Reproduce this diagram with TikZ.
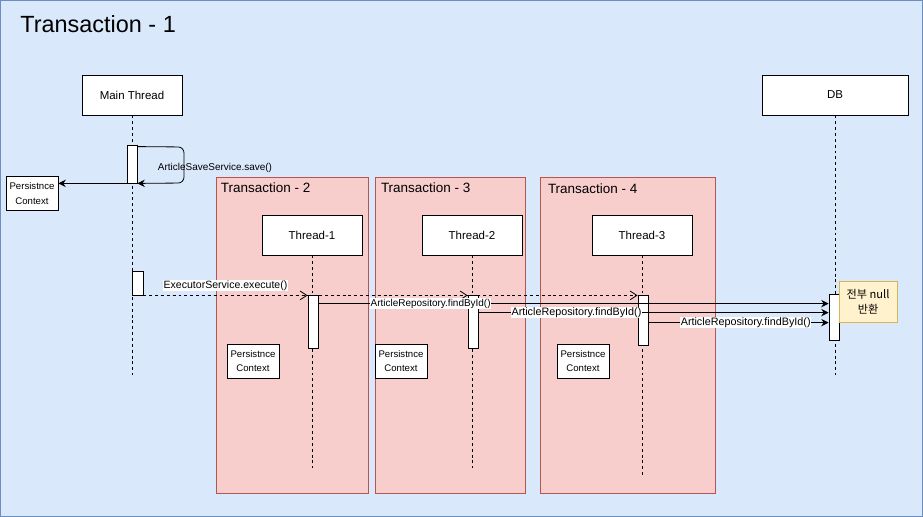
\documentclass[tikz,border=0pt]{standalone}
\usepackage{fontspec}
\setmainfont{Liberation Sans}
\newfontfamily\krfont{Noto Sans CJK KR}
\usetikzlibrary{arrows.meta}
\definecolor{outerfill}{HTML}{DAE8FC}
\definecolor{outerline}{HTML}{6C8EBF}
\definecolor{txfill}{HTML}{F8CECC}
\definecolor{txline}{HTML}{B85450}
\definecolor{notefill}{HTML}{FFF2CC}
\definecolor{noteline}{HTML}{D6B656}
\begin{document}
\begin{tikzpicture}[x=0.03cm, y=-0.03cm, line width=0.7pt,
    head/.style={draw, fill=white, minimum width=3cm, minimum height=1.2cm, font=\fontsize{9.8}{11}\selectfont},
    act/.style={draw, fill=white, minimum width=0.3cm, inner sep=0pt},
    pcbox/.style={draw, fill=white, minimum width=1.56cm, minimum height=1.02cm, inner sep=0.5pt, align=center, font=\fontsize{8.2}{12.5}\selectfont},
    txn/.style={draw=txline, fill=txfill, minimum height=9.48cm, inner sep=0pt},
    txtitle/.style={anchor=west, inner sep=0pt, font=\fontsize{11.5}{13}\selectfont},
    life/.style={dash pattern=on 2.5pt off 2.5pt},
    lbl/.style={fill=white, inner sep=0.5pt, font=\fontsize{8.5}{10}\selectfont},
    call/.style={-{Stealth[length=2.2mm, width=2.2mm]}},
    spawn/.style={life, -{Straight Barb[length=2mm, width=2.6mm]}}]
  \path[use as bounding box] (0,0) rectangle (923,517);
  \draw[draw=outerline, fill=outerfill] (0.5,0.5) rectangle (922.5,516.5);
  \node[anchor=west, inner sep=0pt, font=\fontsize{20}{24}\selectfont] (title) at (20,24) {Transaction - 1};

  \node[txn, minimum width=4.56cm] (tx2) at (292,335) {};
  \node[txn, minimum width=4.5cm] (tx3) at (450,335) {};
  \node[txn, minimum width=5.25cm] (tx4) at (627.5,335.5) {};
  \node[txtitle] (tx2t) at ([shift={(5,11.5)}]tx2.north west) {Transaction - 2};
  \node[txtitle] (tx3t) at ([shift={(6,11.5)}]tx3.north west) {Transaction - 3};
  \node[txtitle] (tx4t) at ([shift={(8,11.5)}]tx4.north west) {Transaction - 4};

  \node[head] (main) at (132,95) {Main Thread};
  \node[head, minimum width=4.38cm] (db) at (835,95) {DB};
  \node[head] (th1) at (312,235) {Thread-1};
  \node[head] (th2) at (472,235) {Thread-2};
  \node[head] (th3) at (642,235) {Thread-3};

  \draw[life] (main.south) -- ++(0,260);
  \draw[life] (db.south) -- ++(0,260);
  \draw[life] (th1.south) -- ++(0,213);
  \draw[life] (th2.south) -- ++(0,213);
  \draw[life] (th3.south) -- ++(0,220);

  \node[pcbox] (pc0) at (32,193.5) {Persistnce\\Context};
  \node[pcbox] (pc1) at (253,361) {Persistnce\\Context};
  \node[pcbox] (pc2) at (401,361) {Persistnce\\Context};
  \node[pcbox] (pc3) at (583,361) {Persistnce\\Context};

  \node[act, minimum height=1.14cm] (m1) at (132,164) {};
  \node[act, minimum width=0.33cm, minimum height=0.72cm] (m2) at (137.5,283) {};
  \node[act, minimum height=1.59cm] (a1) at (313,321.5) {};
  \node[act, minimum height=1.59cm] (a2) at (473,321.5) {};
  \node[act, minimum height=1.5cm] (a3) at (643,320) {};
  \node[act, minimum height=1.38cm] (d1) at (834,317) {};

  \draw[call, rounded corners=5pt] ([yshift=-0.06cm]m1.north east) -- (184,147) -- (184,183) -- (m1.south east);
  \node[inner sep=0pt, font=\fontsize{8.5}{10}\selectfont] (savelbl) at (215,168) {ArticleSaveService.save()};
  \draw[call] (m1.south west) -- (m1.south west -| pc0.east);

  \draw[spawn] (m2.south east) -- (m2.south east -| a1.west) node[midway, above=3pt, lbl, font=\fontsize{9}{10}\selectfont] {ExecutorService.execute()};
  \draw[spawn] (m2.south east) -- (m2.south east -| a2.west);
  \draw[spawn] (m2.south east) -- (m2.south east -| a3.west);

  \foreach \src/\off/\where/\size in {a1/9/0.22/8.5, a2/18/0.28/9.2, a3/28/0.54/9.2}
    \draw[call] ([yshift=-\off*0.03cm]\src.north east) -- ([yshift=-\off*0.03cm]\src.north east -| d1.west) node[pos=\where, lbl, font=\fontsize{\size}{10}\selectfont] {ArticleRepository.findById()};

  \node[draw=noteline, fill=notefill, minimum width=1.74cm, minimum height=1.23cm, align=center, inner sep=1pt, font=\fontsize{9.5}{13}\krfont] (note) at (868,301.5) {전부 null\\반환};
\end{tikzpicture}
\end{document}
